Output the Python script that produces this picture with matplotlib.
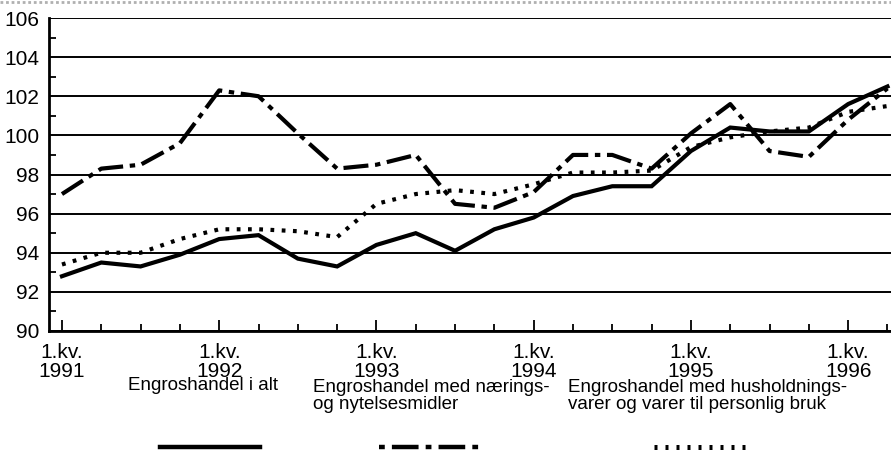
import matplotlib.pyplot as plt
from matplotlib.lines import Line2D

plt.rcParams['font.family'] = ['Liberation Sans', 'DejaVu Sans']

# quarterly index, 1.kv. 1991 - 2.kv. 1996
quarters = list(range(22))
year_labels = ["1.kv.\n1991", "1.kv.\n1992", "1.kv.\n1993", "1.kv.\n1994", "1.kv.\n1995", "1.kv.\n1996"]

total = [92.8, 93.5, 93.3, 93.9, 94.7, 94.9, 93.7, 93.3, 94.4, 95.0, 94.1,
         95.2, 95.8, 96.9, 97.4, 97.4, 99.2, 100.4, 100.2, 100.2, 101.6, 102.5]
food = [97.0, 98.3, 98.5, 99.6, 102.3, 102.0, 100.1, 98.3, 98.5, 99.0, 96.5,
        96.3, 97.1, 99.0, 99.0, 98.3, 100.1, 101.6, 99.2, 98.9, 100.8, 102.4]
household = [93.4, 94.0, 94.0, 94.7, 95.2, 95.2, 95.1, 94.8, 96.5, 97.0, 97.2,
             97.0, 97.5, 98.1, 98.1, 98.2, 99.4, 99.9, 100.2, 100.4, 101.2, 101.5]

labels = ["Engroshandel i alt",
          "Engroshandel med nærings-\nog nytelsesmidler",
          "Engroshandel med husholdnings-\nvarer og varer til personlig bruk"]

fig = plt.figure(figsize=(8.91, 4.54), dpi=100)
ax = fig.add_axes([49 / 891, 123 / 454, 842 / 891, 313 / 454])

dashdot = (0, (6, 1.6, 1.3, 1.6))
dotted = (0, (0.9, 1.8))

ax.plot(quarters, total, color="black", lw=3.0, solid_joinstyle="miter", zorder=3)
ax.plot(quarters, food, color="black", lw=3.0, linestyle=dashdot, dash_capstyle="butt", zorder=3)
ax.plot(quarters, household, color="black", lw=3.0, linestyle=dotted, dash_capstyle="butt", zorder=3)

ax.set_xlim(-0.33, 21.09)
ax.set_ylim(90, 106)
ax.yaxis.grid(True, which="major", color="black", lw=1.4)
ax.set_axisbelow(True)

ax.set_yticks(range(90, 107, 2))
ax.set_yticks(range(91, 107, 2), minor=True)
ax.tick_params(axis="y", which="major", length=0, labelsize=15, pad=7)
ax.tick_params(axis="y", which="minor", direction="in", length=5, width=1.3)

ax.set_xticks(range(0, 22, 4))
ax.set_xticklabels(year_labels)
ax.set_xticks(quarters, minor=True)
ax.tick_params(axis="x", which="major", direction="in", length=8, width=1.3, labelsize=15, pad=9)
ax.tick_params(axis="x", which="minor", direction="in", length=5, width=1.3)
for t in ax.get_xticklabels():
    t.set_linespacing(0.95)

for side in ["top", "right"]:
    ax.spines[side].set_visible(False)
for side in ["left", "bottom"]:
    ax.spines[side].set_linewidth(2)

# legend
W, H = 891, 454
fig.text(128 / W, 1 - 386 / H, labels[0], fontsize=13.5, va="center", ha="left")
fig.text(313 / W, 1 - 396 / H, labels[1], fontsize=13.5, va="center", ha="left", linespacing=1.0)
fig.text(568 / W, 1 - 396 / H, labels[2], fontsize=13.5, va="center", ha="left", linespacing=1.0)
ly = 1 - 447 / H
fig.add_artist(Line2D([160 / W, 260 / W], [ly, ly], color="black", lw=3.2))
fig.add_artist(Line2D([379 / W, 479 / W], [ly, ly], color="black", lw=3.2, linestyle=(0, (1.3, 1.6, 6, 1.6)), dash_capstyle="butt"))
fig.add_artist(Line2D([654 / W, 752 / W], [ly, ly], color="black", lw=3.6, linestyle=(0, (0.6, 1.6)), dash_capstyle="butt"))

# thin grey rule along the top edge
fig.add_artist(Line2D([0, 1], [0.996, 0.996], color="#b0b0b0", lw=2, linestyle=(0, (1, 1))))

fig.savefig("out.png", dpi=100)
